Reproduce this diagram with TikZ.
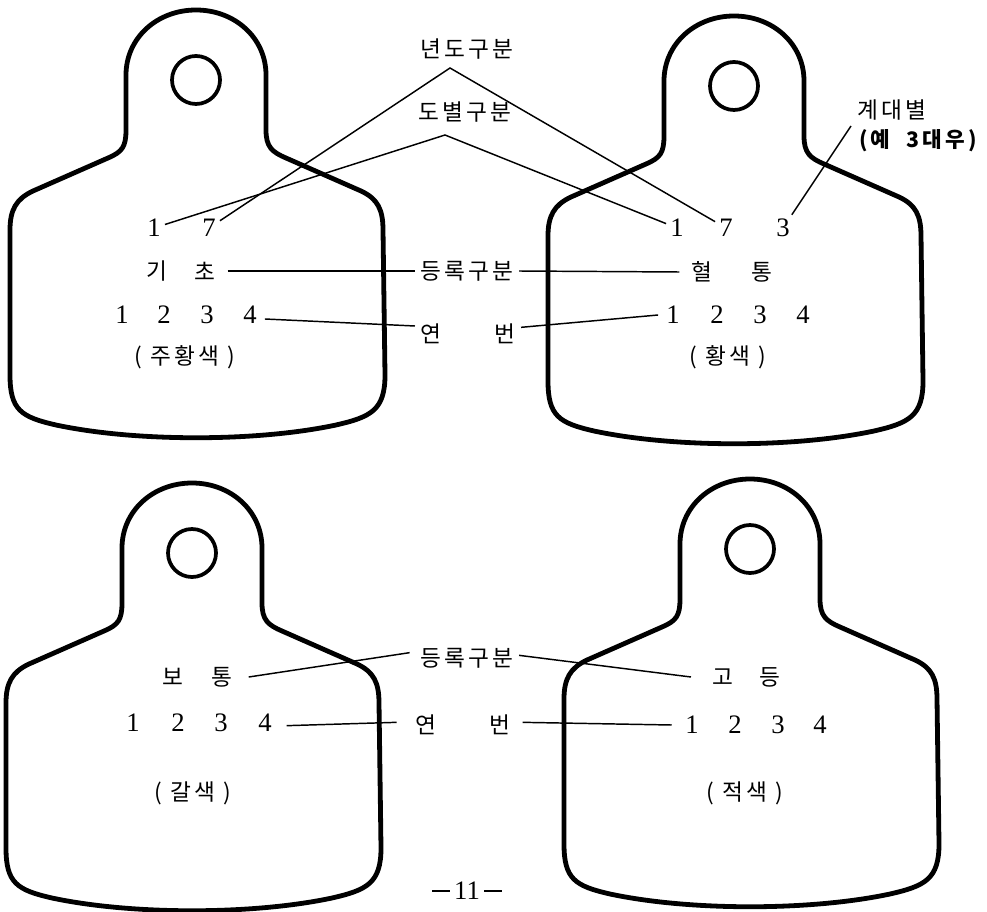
\documentclass[tikz,border=0pt]{standalone}
\usepackage{fontspec}
\setmainfont{Liberation Serif}
\newfontfamily\korfont[LetterSpace=14]{Noto Sans CJK KR}
\tikzset{
  tagline/.style={line width=3.6pt, line join=round},
  holeline/.style={line width=2.8pt},
  conn/.style={line width=1.1pt},
  dig/.style={font=\fontsize{20}{20}\selectfont, inner sep=3pt},
  kor/.style={font=\korfont\fontsize{17}{18}\selectfont, inner sep=4pt},
  eartag/.pic={
    \draw[tagline] (-70,50) -- (-70,-5)
      .. controls (-70,-42) and (-39,-70) .. (0,-70)
      .. controls (39,-70) and (70,-42) .. (70,-5)
      -- (70,50) .. controls (70,67) and (76,72) .. (90,78)
      -- (165,111) .. controls (182,119) and (187,130) .. (187,150)
      -- (189,295) .. controls (189,330) and (175,337) .. (140,345)
      .. controls (60,362) and (-60,362) .. (-140,345)
      .. controls (-175,337) and (-186,330) .. (-186,295)
      -- (-186,150) .. controls (-186,130) and (-180,119) .. (-163,111)
      -- (-88,78) .. controls (-74,72) and (-70,67) .. (-70,50) -- cycle;
    \draw[holeline] (0,0) circle (24);
  }
}
\begin{document}
\begin{tikzpicture}[x=0.75pt,y=-0.75pt]
\fill[white] (0,0) rectangle (987,912);
\useasboundingbox (0,0) rectangle (987,912);

% tags
\pic at (196,80) {eartag};
\pic at (734,86) {eartag};
\pic at (192,553) {eartag};
\pic at (750,549) {eartag};

% centre labels
\node[kor] (ndg) at (467,49) {년도구분};
\node[kor] (dbg) at (465,112) {도별구분};
\coordinate (apexA) at (450,68);
\coordinate (apexB) at (445,135);
\node[kor] (reg1) at (467,271) {등록구분};
\node[kor] (yeonA) at (431,334) {연};
\node[kor] (beonA) at (505,334) {번};
\node[kor] (reg2) at (467,658) {등록구분};
\node[kor] (yeonB) at (426,725) {연};
\node[kor] (beonB) at (500,725) {번};

% top-left tag
\node[dig] (tl1) at (154,228) {1};
\node[dig] (tl7) at (209,228) {7};
\node[kor] (tlgi) at (157,271) {기};
\node[kor] (tlcho) at (205,271) {초};
\foreach \d/\x in {1/122,2/164,3/207,4/250}
  \node[dig] (tlr\d) at (\x,315) {\d};
\node[kor] (tlcol) at (185,357) {(\ 주황색\ )};

% top-right tag
\node[dig] (tr1) at (677,228) {1};
\node[dig] (tr7) at (726,228) {7};
\node[dig] (tr3) at (783,228) {3};
\node[kor] (trhy) at (702,272) {혈};
\node[kor] (trtong) at (762,272) {통};
\foreach \d/\x in {1/673,2/717,3/760,4/803}
  \node[dig] (trr\d) at (\x,315) {\d};
\node[kor] (trcol) at (728,357) {(\ 황색\ )};
\node[kor] (gen) at (892,110) {계대별};
\node[kor,font=\korfont\bfseries\fontsize{16}{17}\selectfont] (ex) at (918,141) {(예\ \ 3\,대우)};
\coordinate (genend) at (851,126);

% bottom-left tag
\node[kor] (blbo) at (173,677) {보};
\node[kor] (bltong) at (222,677) {통};
\foreach \d/\x in {1/133,2/178,3/221,4/265}
  \node[dig] (blr\d) at (\x,723) {\d};
\node[kor] (blcol) at (193,793) {(\ 갈색\ )};

% bottom-right tag
\node[kor] (brgo) at (723,677) {고};
\node[kor] (brdeung) at (770,677) {등};
\foreach \d/\x in {1/692,2/735,3/778,4/820}
  \node[dig] (brr\d) at (\x,725) {\d};
\node[kor] (brcol) at (745,793) {(\ 적색\ )};

% page number
\node[dig] (pg) at (467,891) {\rule[0.28em]{0.65em}{0.07em}\,11\,\rule[0.28em]{0.65em}{0.07em}};

% connectors
\draw[conn] (tl1) -- (apexB) -- (tr1);
\draw[conn] (tl7) -- (apexA) -- (tr7);
\draw[conn] (tr3) -- (genend);
\draw[conn] ([xshift=5pt]tlcho.east) -- (reg1.west);
\draw[conn] (reg1.east) -- ([xshift=-5pt]trhy.west);
\draw[conn] ([xshift=3pt,yshift=-3pt]tlr4.east) -- ([yshift=6pt]yeonA.west);
\draw[conn] ([yshift=5pt]beonA.east) -- ([xshift=-3pt]trr1.west);
\draw[conn] ([xshift=8pt]bltong.east) -- ([xshift=-4pt,yshift=4pt]reg2.west);
\draw[conn] ([yshift=2pt]reg2.east) -- ([xshift=-12pt]brgo.west);
\draw[conn] ([xshift=8pt,yshift=-2pt]blr4.east) -- ([xshift=-10pt,yshift=2pt]yeonB.west);
\draw[conn] ([xshift=5pt,yshift=2pt]beonB.east) -- ([xshift=-7pt]brr1.west);
\end{tikzpicture}
\end{document}
